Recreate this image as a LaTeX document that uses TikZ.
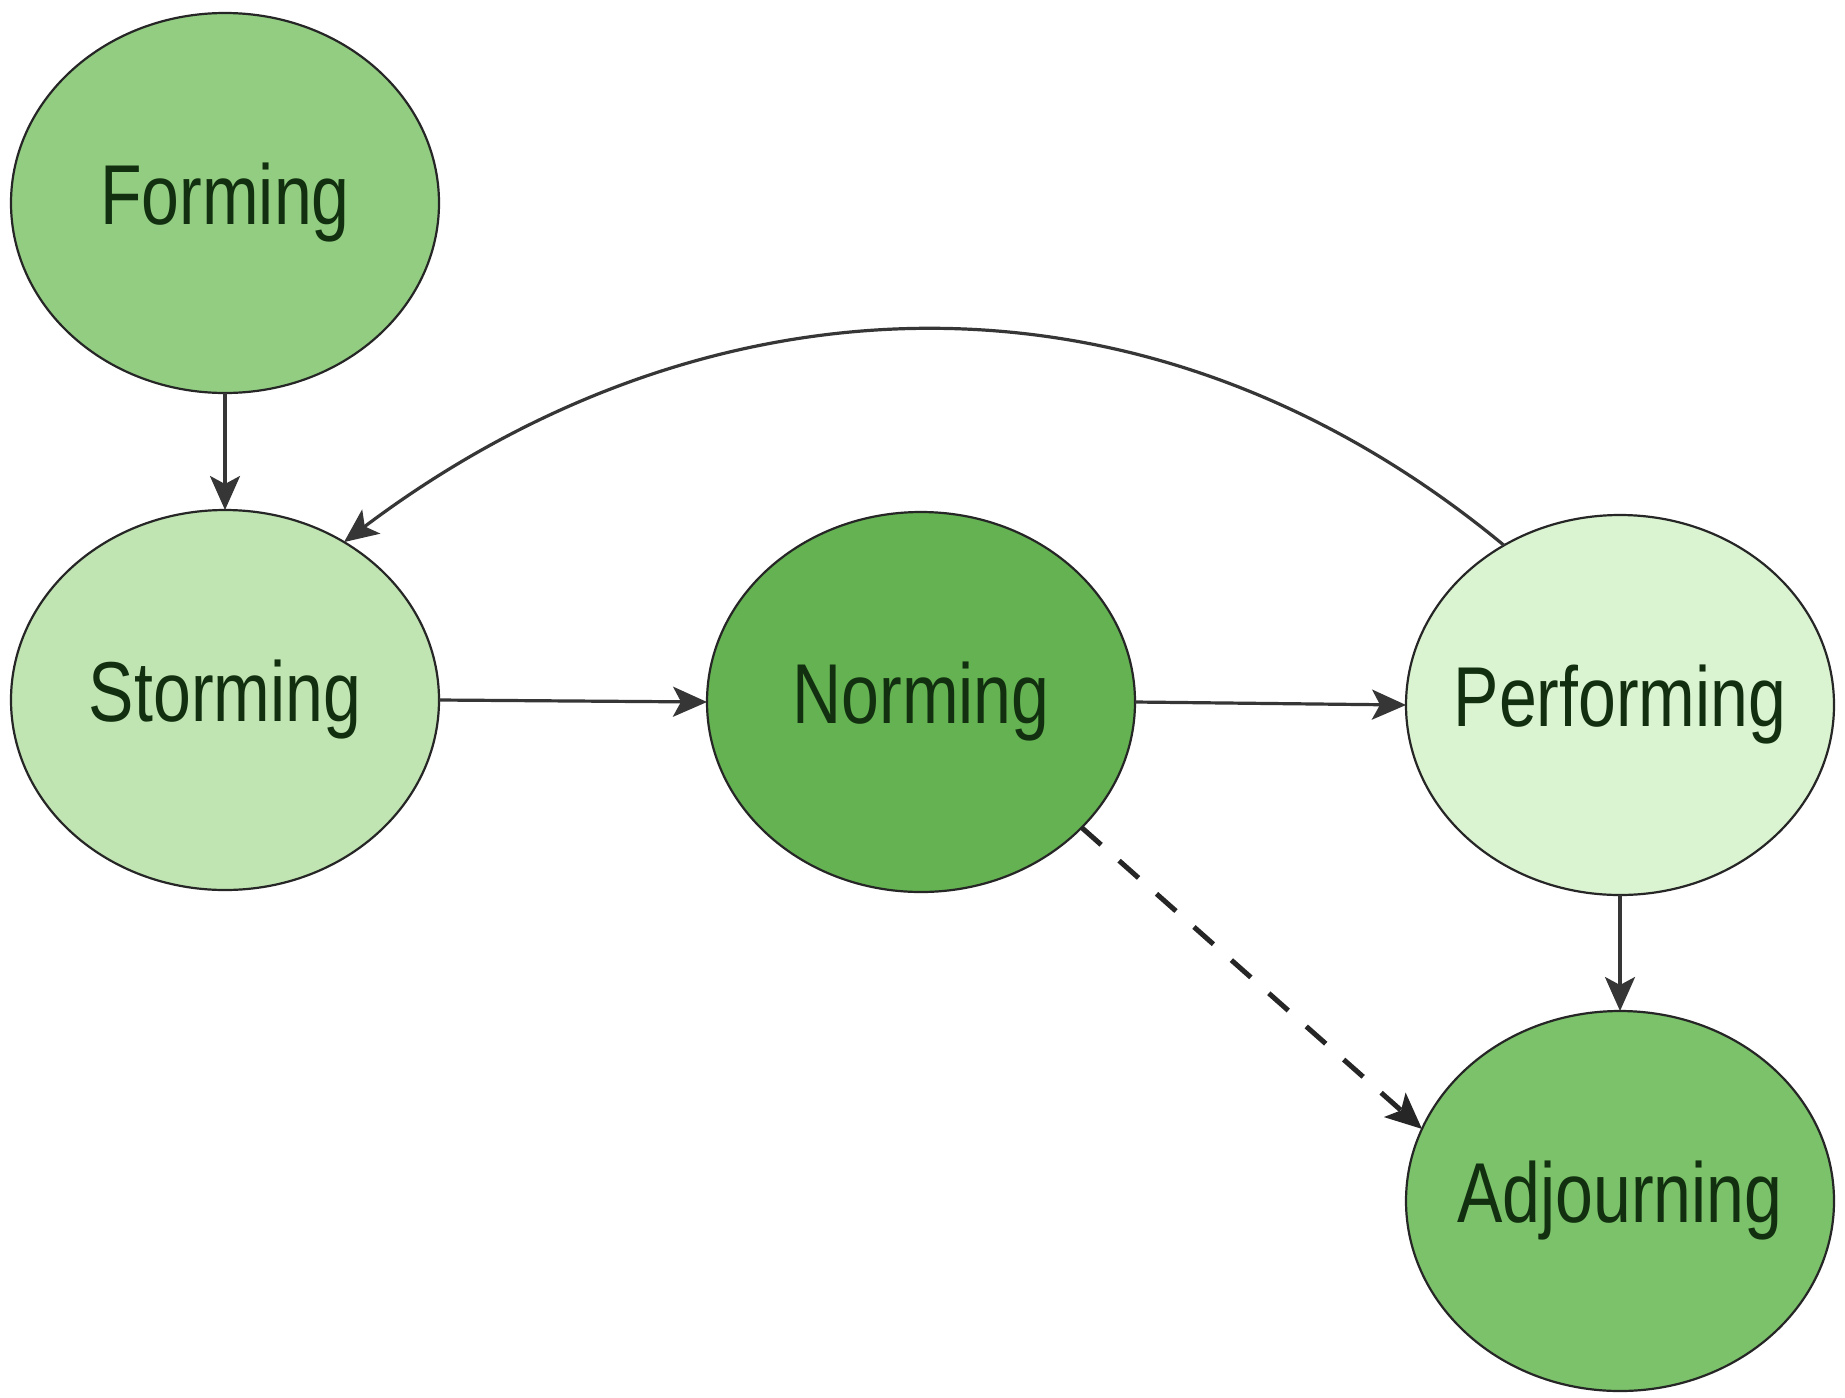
\documentclass[tikz,border=0pt]{standalone}
\usepackage{fontspec}
\setmainfont{Liberation Sans}
\newfontfamily\condfont[FakeStretch=0.8]{Liberation Sans}
\usetikzlibrary{shapes.geometric,arrows.meta}
\definecolor{cForming}{HTML}{92CD82}
\definecolor{cStorming}{HTML}{C0E5B2}
\definecolor{cNorming}{HTML}{64B252}
\definecolor{cPerforming}{HTML}{DAF3D0}
\definecolor{cAdjourning}{HTML}{7BC26A}
\definecolor{txtgreen}{HTML}{12300F}
\definecolor{arrowgrey}{HTML}{363636}
\newcommand{\stagetext}[1]{\makebox[0pt]{#1}}
\tikzset{
  stage/.style={ellipse, draw=black!85, line width=1.1pt, minimum width=214pt,
    minimum height=190pt, inner sep=0pt, outer sep=0pt, text=txtgreen,
    font=\condfont\fontsize{42.5}{44}\selectfont},
  conn/.style={draw=arrowgrey, line width=1.6pt,
    -{Stealth[length=17pt,width=15pt,inset=4pt]}},
  dashconn/.style={draw=black!85, line width=2.5pt, dash pattern=on 13pt off 12pt,
    -{Stealth[length=18pt,width=16pt,inset=4pt]}}
}
\begin{document}
\begin{tikzpicture}[x=0.5pt,y=-0.5pt]
\useasboundingbox (0,0) rectangle (1845,1397);
\fill[white] (0,0) rectangle (1845,1397);
\node[stage, fill=cForming] (form) at (225,203) {\stagetext{Forming}};
\node[stage, fill=cStorming] (storm) at (225,700) {\stagetext{Storming}};
\node[stage, fill=cNorming] (norm) at (921,702) {\stagetext{Norming}};
\node[stage, fill=cPerforming] (perf) at (1620,705) {\stagetext{Performing}};
\node[stage, fill=cAdjourning] (adj) at (1620,1201) {\stagetext{Adjourning}};
\draw[conn] (form.south) -- (storm.north);
\draw[conn] (storm.east) -- (norm.west);
\draw[conn] (norm.east) -- (perf.west);
\draw[conn] (perf.south) -- (adj.north);
\draw[dashconn] (norm.-38.7) -- (adj.160.5);
\draw[conn] (perf.126.5) .. controls (1140,244) and (700,274) .. (storm.53.5);
\end{tikzpicture}
\end{document}
